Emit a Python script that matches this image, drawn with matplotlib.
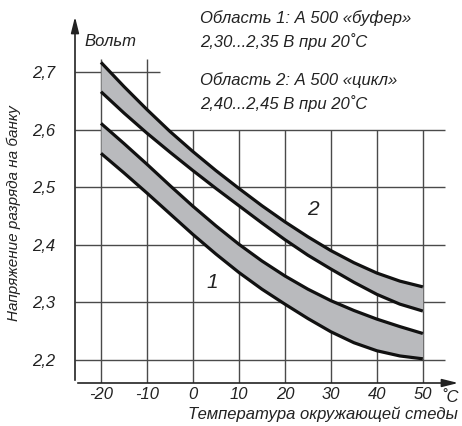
import matplotlib.pyplot as plt
import numpy as np

plt.rcParams['font.family'] = ['Liberation Sans', 'DejaVu Sans']
plt.rcParams['font.style'] = 'italic'

# temperature, deg C
temp = [-20, -15, -10, -5, 0, 5, 10, 15, 20, 25, 30, 35, 40, 45, 50]
# band 2 ("цикл")
upper2 = [2.717, 2.675, 2.635, 2.597, 2.562, 2.529, 2.498, 2.468, 2.440, 2.414, 2.390, 2.369, 2.351, 2.337, 2.327]
lower2 = [2.666, 2.629, 2.594, 2.561, 2.529, 2.498, 2.468, 2.438, 2.409, 2.382, 2.358, 2.335, 2.314, 2.297, 2.285]
# band 1 ("буфер")
upper1 = [2.611, 2.576, 2.540, 2.503, 2.467, 2.433, 2.401, 2.372, 2.346, 2.323, 2.303, 2.286, 2.271, 2.258, 2.246]
lower1 = [2.559, 2.525, 2.490, 2.454, 2.418, 2.384, 2.352, 2.323, 2.297, 2.272, 2.249, 2.230, 2.216, 2.207, 2.202]

xticks = [-20, -10, 0, 10, 20, 30, 40, 50]
xlabels = ['-20', '-10', '0', '10', '20', '30', '40', '50']
yticks = [2.2, 2.3, 2.4, 2.5, 2.6, 2.7]
ylabels = ['2,2', '2,3', '2,4', '2,5', '2,6', '2,7']

W, H = 462, 426
fs = 12
fig = plt.figure(figsize=(W / 100, H / 100), dpi=100)
ax = fig.add_axes([75 / W, 1 - 383 / H, (461 - 75) / W, (383 - 14) / H])
x0, x1 = -25.65, 58.3
y0, y1 = 2.160, 2.801
ax.set_xlim(x0, x1)
ax.set_ylim(y0, y1)
for s in ax.spines.values():
    s.set_visible(False)

# grid (irregular because of the text block in the upper right)
gc = '#4a4a4a'
ax.hlines(yticks[:-1], x0, 54.8, color=gc, lw=1.0, zorder=1)
ax.hlines(2.7, x0, -7.2, color=gc, lw=1.0, zorder=1)
ax.vlines([-20, -10], y0, 2.722, color=gc, lw=1.0, zorder=1)
ax.vlines(xticks[2:], y0, 2.6, color=gc, lw=1.0, zorder=1)

# bands
ax.fill_between(temp, lower2, upper2, color='#b9babd', lw=0, zorder=2)
ax.fill_between(temp, lower1, upper1, color='#b9babd', lw=0, zorder=2)
for c in (upper2, lower2, upper1, lower1):
    ax.plot(temp, c, color='#111111', lw=2.3, solid_capstyle='butt',
            solid_joinstyle='round', zorder=3)

# axes with arrows
arw = dict(arrowstyle='-|>,head_length=0.8,head_width=0.2', color='#222222',
           lw=1.2, mutation_scale=12)
ax.annotate('', xy=(x1, y0), xytext=(x0, y0), arrowprops=arw, annotation_clip=False)
ax.annotate('', xy=(x0, y1), xytext=(x0, y0), arrowprops=arw, annotation_clip=False)

ax.set_xticks(xticks, xlabels)
ax.set_yticks(yticks, ylabels)
for lbl in ax.get_xticklabels() + ax.get_yticklabels():
    lbl.set_fontsize(fs)
    lbl.set_fontstyle('italic')
    lbl.set_color('#222222')
ax.tick_params(length=0, pad=3)
ax.tick_params(axis='y', pad=14)

tk = dict(fontsize=fs, style='italic', color='#222222')
fig.text(441 / W, 1 - 397 / H, '˚C', ha='left', va='center', **tk)
fig.text(458 / W, 1 - 414 / H, 'Температура окружающей стеды', ha='right', va='center', **tk)
fig.text(14 / W, 1 - 213 / H, 'Напряжение разряда на банку', rotation=90,
         ha='center', va='center', fontsize=11, style='italic', color='#222222')
fig.text(84 / W, 1 - 41 / H, 'Вольт', ha='left', va='center', **tk)

fig.text(200 / W, 1 - 18 / H, 'Область 1: А 500 «буфер»', ha='left', va='center', **tk)
fig.text(200 / W, 1 - 42 / H, '2,30...2,35 В при 20˚C', ha='left', va='center', **tk)
fig.text(200 / W, 1 - 80 / H, 'Область 2: А 500 «цикл»', ha='left', va='center', **tk)
fig.text(200 / W, 1 - 104 / H, '2,40...2,45 В при 20˚C', ha='left', va='center', **tk)

ax.text(4.3, 2.334, '1', ha='center', va='center', fontsize=15, style='italic', color='#222222')
ax.text(26.0, 2.462, '2', ha='center', va='center', fontsize=15, style='italic', color='#222222')

fig.savefig('out.png', dpi=100)
